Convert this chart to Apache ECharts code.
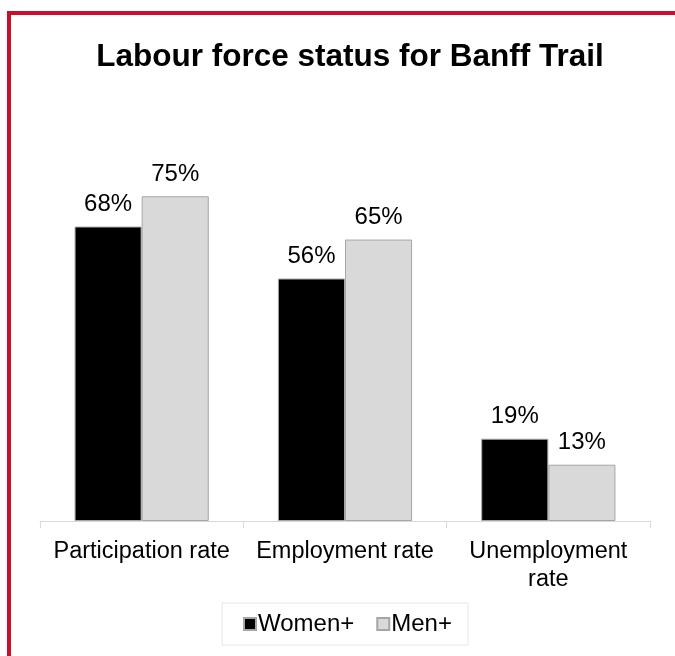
<!DOCTYPE html>
<html>
<head>
<meta charset="utf-8">
<script src="https://cdn.jsdelivr.net/npm/echarts@6/dist/echarts.min.js"></script>
<style>
html,body{margin:0;padding:0;background:#fff;}
#chart{width:675px;height:656px;}
</style>
</head>
<body>
<div id="chart"></div>
<script>
const categories = ['Participation rate', 'Employment rate', 'Unemployment\nrate'];
const women = [68, 56, 19];
const men = [75, 65, 13];
const seriesNames = ['Women+', 'Men+'];

const chart = echarts.init(document.getElementById('chart'));
const font = '"Liberation Sans", Arial, sans-serif';
chart.setOption({
  animation: false,
  backgroundColor: '#fff',
  title: {
    text: 'Labour force status for Banff Trail',
    left: 345, top: 36, textAlign: 'center',
    textStyle: {fontFamily: font, fontSize: 31.5, fontWeight: 'bold', color: '#000'}
  },
  graphic: [
    {type: 'rect', shape: {x: 7, y: 11, width: 668, height: 4}, style: {fill: '#C8102E'}},
    {type: 'rect', shape: {x: 7, y: 11, width: 4, height: 645}, style: {fill: '#C8102E'}}
  ],
  legend: {
    data: seriesNames,
    left: 222, top: 603,
    itemWidth: 12, itemHeight: 12, itemGap: 22,
    borderColor: '#E6E6E6', borderWidth: 1, padding: [9, 16, 9, 21],
    textStyle: {fontFamily: font, fontSize: 24, color: '#000', padding: [0, 0, 0, -3]},
    icon: 'rect'
  },
  grid: {left: 40, right: 25, top: 88, bottom: 135},
  xAxis: {
    type: 'category', data: categories,
    axisLine: {lineStyle: {color: '#D9D9D9', width: 1}},
    axisTick: {show: true, length: 7, lineStyle: {color: '#D9D9D9'}},
    axisLabel: {fontFamily: font, fontSize: 23.5, color: '#000', margin: 17, lineHeight: 28, interval: 0}
  },
  yAxis: {
    type: 'value', min: 0, max: 100, show: false, splitLine: {show: false}
  },
  series: [
    {
      name: seriesNames[0], type: 'bar', data: women,
      barGap: '0%', barCategoryGap: '34%',
      itemStyle: {color: '#000000', borderColor: '#A6A6A6', borderWidth: 1},
      label: {show: true, position: 'top', formatter: '{c}%', fontFamily: font, fontSize: 24, color: '#000', distance: 10}
    },
    {
      name: seriesNames[1], type: 'bar', data: men,
      itemStyle: {color: '#D9D9D9', borderColor: '#A6A6A6', borderWidth: 1},
      label: {show: true, position: 'top', formatter: '{c}%', fontFamily: font, fontSize: 24, color: '#000', distance: 10}
    }
  ]
});
</script>
</body>
</html>
